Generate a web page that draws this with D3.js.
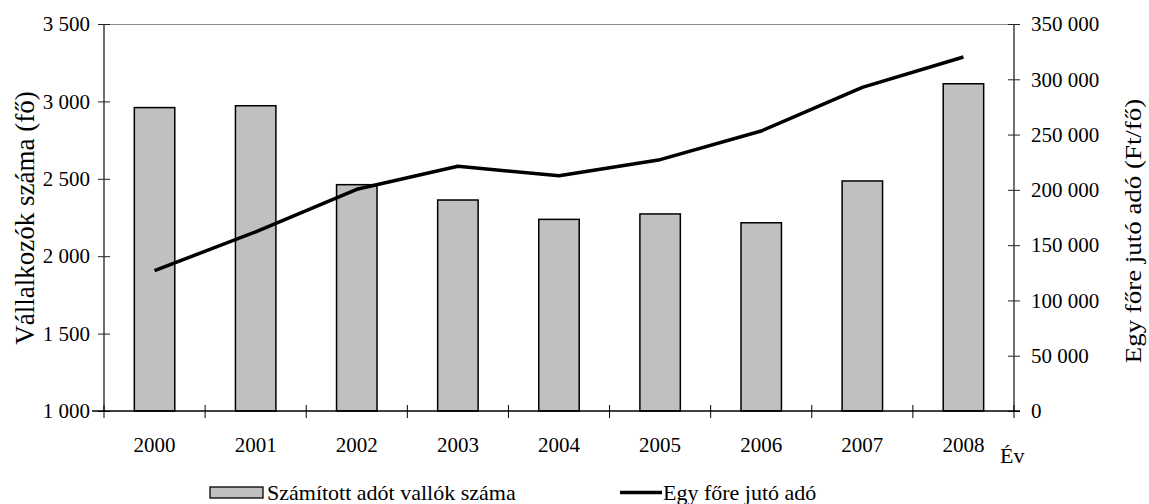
<!DOCTYPE html>
<html>
<head>
<meta charset="utf-8">
<script src="https://cdn.jsdelivr.net/npm/d3@7"></script>
<style>
  html, body { margin: 0; padding: 0; background: #fff; }
  svg { display: block; }
  svg text { font-family: "Liberation Serif", "Times New Roman", serif; fill: #000; }
</style>
</head>
<body>
<svg id="chart" width="1149" height="504"></svg>
<script>
// Years on the category axis
const years = ["2000", "2001", "2002", "2003", "2004", "2005", "2006", "2007", "2008"];
// Number of entrepreneurs declaring calculated tax (persons)
const taxpayers = [2960, 2972, 2462, 2363, 2238, 2273, 2216, 2486, 3114];
// Tax per capita (Ft/person)
const taxPerCapita = [127000, 162000, 200500, 221300, 212800, 227300, 253200, 292700, 320200];
// Axis tick values
const leftTicks = [1000, 1500, 2000, 2500, 3000, 3500];
const rightTicks = [0, 50000, 100000, 150000, 200000, 250000, 300000, 350000];

const svg = d3.select("#chart");
const plot = { left: 104, right: 1014, top: 24, bottom: 411 };

const x = d3.scaleBand()
  .domain(years)
  .range([plot.left, plot.right])
  .paddingInner(0.6)
  .paddingOuter(0.3);

const yLeft = d3.scaleLinear().domain([1000, 3500]).range([plot.bottom, plot.top]);
const yRight = d3.scaleLinear().domain([0, 350000]).range([plot.bottom, plot.top]);

// Thousands separated by a space
const fmt = v => d3.format(",")(v).replace(/,/g, " ");

// Plot-area top border
svg.append("line")
  .attr("x1", plot.left).attr("x2", plot.right)
  .attr("y1", plot.top + 0.5).attr("y2", plot.top + 0.5)
  .attr("stroke", "#8c8c8c").attr("stroke-width", 1.2);

// Bars
svg.append("g").selectAll("rect")
  .data(years)
  .join("rect")
  .attr("x", d => x(d))
  .attr("width", x.bandwidth())
  .attr("y", (d, i) => yLeft(taxpayers[i]))
  .attr("height", (d, i) => yLeft(1000) - yLeft(taxpayers[i]))
  .attr("fill", "#c0c0c0")
  .attr("stroke", "#000")
  .attr("stroke-width", 1.5);

// Per-capita tax line
const line = d3.line()
  .x((d, i) => x(years[i]) + x.bandwidth() / 2)
  .y(d => yRight(d));
svg.append("path")
  .datum(taxPerCapita)
  .attr("d", line)
  .attr("fill", "none")
  .attr("stroke", "#000")
  .attr("stroke-width", 3.5)
  .attr("stroke-linejoin", "round");

// Left axis
const leftAxis = svg.append("g")
  .attr("transform", `translate(${plot.left},0)`)
  .call(d3.axisLeft(yLeft).tickValues(leftTicks).tickFormat(fmt).tickSize(6).tickPadding(8));
leftAxis.selectAll(".tick line").attr("x2", 6).attr("x1", -6);

// Right axis
const rightAxis = svg.append("g")
  .attr("transform", `translate(${plot.right},0)`)
  .call(d3.axisRight(yRight).tickValues(rightTicks).tickFormat(fmt).tickSize(6).tickPadding(11));
rightAxis.selectAll(".tick line").attr("x1", -6).attr("x2", 6);

// Category axis with ticks between categories
const boundaries = d3.range(years.length + 1).map(k => plot.left + k * (plot.right - plot.left) / years.length);
const bottomAxis = svg.append("g").attr("transform", `translate(0,${plot.bottom})`);
bottomAxis.append("line")
  .attr("x1", plot.left - 12).attr("x2", plot.right + 6)
  .attr("stroke", "#000").attr("stroke-width", 1.3);
bottomAxis.selectAll(".btick")
  .data(boundaries)
  .join("line")
  .attr("class", "btick")
  .attr("x1", d => d).attr("x2", d => d)
  .attr("y1", -6).attr("y2", 7)
  .attr("stroke", "#000").attr("stroke-width", 1);
bottomAxis.selectAll(".blabel")
  .data(years)
  .join("text")
  .attr("class", "blabel")
  .attr("x", d => x(d) + x.bandwidth() / 2)
  .attr("y", 41)
  .attr("text-anchor", "middle")
  .attr("font-size", 21)
  .text(d => d);

// Axis styling
svg.selectAll(".domain").attr("stroke", "#222").attr("stroke-width", 1.3);
leftAxis.select(".domain").attr("d", `M0,${plot.top}V${plot.bottom}`);
rightAxis.select(".domain").attr("d", `M0,${plot.top}V${plot.bottom}`);
svg.selectAll(".tick line").attr("stroke", "#222").attr("stroke-width", 1);
svg.selectAll(".tick text").attr("font-size", 21);

// Axis titles
svg.append("text")
  .attr("transform", "translate(34,218) rotate(-90)")
  .attr("text-anchor", "middle")
  .attr("font-size", 27)
  .text("Vállalkozók száma (fő)");
svg.append("text")
  .attr("transform", "translate(1141,231) rotate(-90) scale(1.17,1)")
  .attr("text-anchor", "middle")
  .attr("font-size", 23)
  .text("Egy főre jutó adó (Ft/fő)");
svg.append("text")
  .attr("x", 1000).attr("y", 463)
  .attr("font-size", 22)
  .text("Év");

// Legend
const legend = svg.append("g");
legend.append("rect")
  .attr("x", 210).attr("y", 487).attr("width", 53).attr("height", 11)
  .attr("fill", "#c0c0c0").attr("stroke", "#000").attr("stroke-width", 1.3);
legend.append("text")
  .attr("x", 267).attr("y", 500)
  .attr("font-size", 22)
  .text("Számított adót vallók száma");
legend.append("line")
  .attr("x1", 620).attr("x2", 662).attr("y1", 492.5).attr("y2", 492.5)
  .attr("stroke", "#000").attr("stroke-width", 3.5);
legend.append("text")
  .attr("x", 663).attr("y", 500)
  .attr("font-size", 22)
  .text("Egy főre jutó adó");
</script>
</body>
</html>
